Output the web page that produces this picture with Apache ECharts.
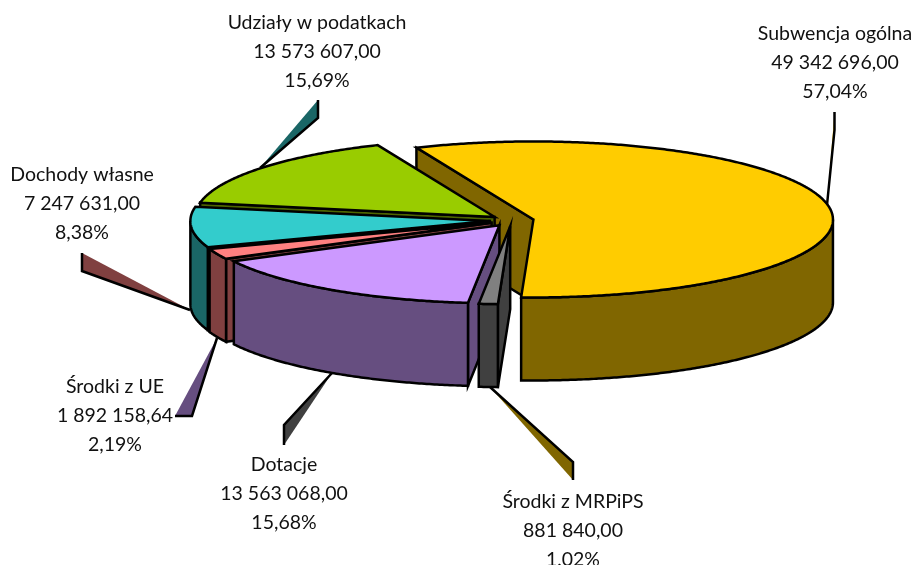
<!DOCTYPE html>
<html>
<head>
<meta charset="utf-8">
<style>html,body{margin:0;padding:0;background:#fff}#chart{width:914px;height:565px}</style>
<script src="https://cdn.jsdelivr.net/npm/echarts@6/dist/echarts.min.js"></script>
</head>
<body>
<div id="chart"></div>
<script>
// slices in the order of the sheet
var names = ['Subwencja ogólna', 'Środki z MRPiPS', 'Dotacje', 'Środki z UE', 'Dochody własne', 'Udziały w podatkach'];
var values = [49342696.00, 881840.00, 13563068.00, 1892158.64, 7247631.00, 13573607.00];
var topColors = ['#FFCC00', '#808080', '#CC99FF', '#FF8080', '#33CCCC', '#99CC00'];
var sideColors = ['#806600', '#404040', '#664E80', '#804040', '#1A6666', '#4D6600'];
var leaderColors = ['#FFCC00', '#806600', '#404040', '#664E80', '#804040', '#1A6666'];
// back to front
var drawOrder = [0, 5, 4, 3, 2, 1];

// layout of the pie
var cx = 511.8, cy = 220.5, rx = 299.5, ry = 78, depth = 83, explode = 22, firstAngle = 337;
var labelPos = [[835, 19.5], [573, 487.5], [284, 450.5], [115, 372.5], [82, 160.5], [317, 8.5]];
var lineH = 28.7;
// wedge callouts: tip at the pie, then the two corners by the label
var leaders = [
    [[827, 205], [834.5, 130], [834.5, 112]],
    [[490, 387], [573, 462], [573, 480]],
    [[332, 373], [284, 425], [284, 445]],
    [[217, 338], [192, 416], [175, 416]],
    [[190, 310], [82, 271], [82, 253]],
    [[260, 168], [318, 118], [318, 100]]
];

var total = values.reduce(function (a, b) { return a + b; }, 0);
var starts = [];
values.reduce(function (a, v, i) { starts[i] = a; return a + v / total * 360; }, firstAngle);

function fmtValue(v) {
    var p = v.toFixed(2).split('.');
    return p[0].replace(/\B(?=(\d{3})+$)/g, ' ') + ',' + p[1];
}
function fmtPct(v) {
    return (v / total * 100).toFixed(2).replace('.', ',') + '%';
}
function rim(o, deg, dy) {
    var a = deg * Math.PI / 180;
    return [o[0] + rx * Math.sin(a), o[1] - ry * Math.cos(a) + (dy || 0)];
}
function arc(o, a0, a1, dy) {
    var pts = [], n = Math.max(2, Math.ceil(Math.abs(a1 - a0) * 2));
    for (var i = 0; i <= n; i++) pts.push(rim(o, a0 + (a1 - a0) * i / n, dy));
    return pts;
}
function poly(points, fill) {
    return {
        type: 'polygon',
        shape: { points: points },
        style: { fill: fill, stroke: '#000', lineWidth: 2.5, lineJoin: 'miter' }
    };
}
function sinDeg(a) {
    return Math.sin(a * Math.PI / 180);
}

function renderSlice(params, api) {
    var i = api.value(1);
    var a0 = starts[i], a1 = a0 + api.value(0) / total * 360;
    var mid = (a0 + a1) / 2 * Math.PI / 180;
    var o = [cx + explode * Math.sin(mid), cy - explode * Math.cos(mid) * ry / rx];
    var oLow = [o[0], o[1] + depth];
    var kids = [];
    // cut faces, only those turned to the viewer
    if (sinDeg(a0) < 0) kids.push(poly([o, rim(o, a0), rim(o, a0, depth), oLow], sideColors[i]));
    if (sinDeg(a1) > 0) kids.push(poly([o, rim(o, a1), rim(o, a1, depth), oLow], sideColors[i]));
    // front part of the outer wall, angles 90..270 (also +360)
    [0, 360].forEach(function (shift) {
        var f0 = Math.max(a0, 90 + shift), f1 = Math.min(a1, 270 + shift);
        if (f1 > f0) {
            kids.push(poly(arc(o, f0, f1).concat(arc(o, f1, f0, depth)), sideColors[i]));
        }
    });
    kids.push(poly([o].concat(arc(o, a0, a1)), topColors[i]));
    return { type: 'group', children: kids };
}

function renderLeader(params, api) {
    var pts = leaders[api.value(0)];
    return {
        type: 'group',
        children: [
            { type: 'polygon', shape: { points: pts }, style: { fill: leaderColors[api.value(0)] } },
            { type: 'polyline', shape: { points: pts }, style: { fill: null, stroke: '#000', lineWidth: 2.5 } }
        ]
    };
}

function renderLabel(params, api) {
    var i = api.value(0);
    return {
        type: 'text',
        x: labelPos[i][0],
        y: labelPos[i][1],
        style: {
            text: names[i] + '\n' + fmtValue(values[i]) + '\n' + fmtPct(values[i]),
            fill: '#111',
            font: '19.5px Lato',
            lineHeight: lineH,
            align: 'center',
            verticalAlign: 'top'
        }
    };
}

var chart = echarts.init(document.getElementById('chart'), null, { renderer: 'canvas' });
chart.setOption({
    animation: false,
    series: [
        {
            type: 'custom',
            coordinateSystem: 'none',
            renderItem: renderLeader,
            silent: true,
            z: 1,
            data: names.map(function (n, i) { return [i]; })
        },
        {
            type: 'custom',
            coordinateSystem: 'none',
            renderItem: renderSlice,
            silent: true,
            z: 2,
            data: drawOrder.map(function (i) { return [values[i], i]; })
        },
        {
            type: 'custom',
            coordinateSystem: 'none',
            renderItem: renderLabel,
            silent: true,
            z: 3,
            data: names.map(function (n, i) { return [i]; })
        }
    ]
});
</script>
</body>
</html>
